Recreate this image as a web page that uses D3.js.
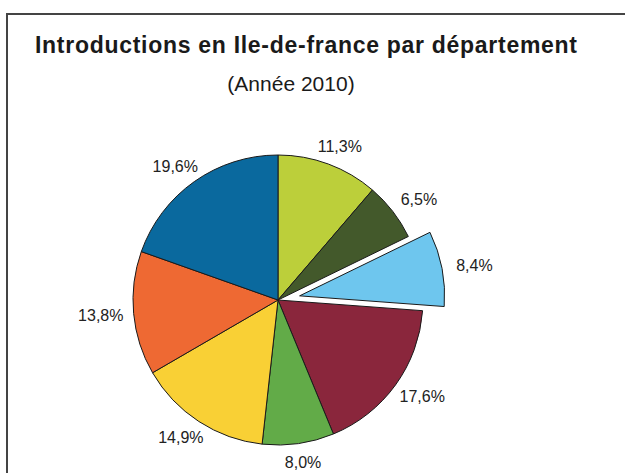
<!DOCTYPE html>
<html>
<head>
<meta charset="utf-8">
<script src="https://cdn.jsdelivr.net/npm/d3@7"></script>
<style>
  body { margin: 0; background: #fff; }
  svg { display: block; font-family: "Liberation Sans", Arial, sans-serif; }
  .title { font-size: 23px; font-weight: bold; fill: #1a1a1a; }
  .subtitle { font-size: 21px; fill: #1a1a1a; }
  .label { font-size: 16px; fill: #222; }
</style>
</head>
<body>
<svg class="pie"></svg>
<script>
/*PIE CHART*/
var parts = [11.3, 6.5, 8.4, 17.6, 8.0, 14.9, 13.8, 19.6];
var labels = ["11,3%", "6,5%", "8,4%", "17,6%", "8,0%", "14,9%", "13,8%", "19,6%"];
var colors = ["#bccf3a", "#43592b", "#6ec6ee", "#8a263c", "#62ab48", "#f9d035", "#ee6933", "#0a699e"];
var explodedIndex = 2;

var width = 625,
    height = 473,
    radius = 145,
    cx = 278,
    cy = 300,
    explodeBy = 22,
    labelGap = 156,   // distance from centre to the label box
    labelHalfW = 22,
    labelHalfH = 8;

var svg = d3.select(".pie")
    .attr("width", width)
    .attr("height", height);

// frame (chart area border, cut by the window on right and bottom)
svg.append("path")
    .attr("d", "M7," + height + "V14H" + width)
    .attr("fill", "none")
    .attr("stroke", "#444")
    .attr("stroke-width", 2);

svg.append("text")
    .attr("class", "title")
    .attr("x", 35)
    .attr("y", 53)
    .attr("textLength", 542)
    .attr("lengthAdjust", "spacing")
    .text("Introductions en Ile-de-france par département");

svg.append("text")
    .attr("class", "subtitle")
    .attr("x", 291)
    .attr("y", 91)
    .attr("text-anchor", "middle")
    .text("(Année 2010)");

var data = parts.map(function(d, i) {
  return {index: i, value: d, label: labels[i], color: colors[i]};
});

var pie = d3.pie()
    .sort(null)
    .value(function(d) { return d.value; });

var arc = d3.arc()
    .innerRadius(0)
    .outerRadius(radius);

var g = svg.append("g")
    .attr("transform", "translate(" + cx + "," + cy + ")");

function midAngle(d) { return (d.startAngle + d.endAngle) / 2; }

var slice = g.selectAll(".slice")
    .data(pie(data))
  .enter().append("g")
    .attr("class", "slice")
    .attr("transform", function(d) {
      if (d.data.index !== explodedIndex) return null;
      var a = midAngle(d);
      return "translate(" + Math.sin(a) * explodeBy + "," + (-Math.cos(a) * explodeBy) + ")";
    });

slice.append("path")
    .attr("d", arc)
    .attr("fill", function(d) { return d.data.color; })
    .attr("stroke", "#1a1a1a")
    .attr("stroke-width", 1)
    .attr("stroke-linejoin", "round");

slice.append("text")
    .attr("class", "label")
    .attr("text-anchor", "middle")
    .attr("dy", "0.35em")
    .attr("x", function(d) { return Math.sin(midAngle(d)) * (labelGap + labelHalfW); })
    .attr("y", function(d) { return -Math.cos(midAngle(d)) * (labelGap + labelHalfH); })
    .text(function(d) { return d.data.label; });
</script>
</body>
</html>
